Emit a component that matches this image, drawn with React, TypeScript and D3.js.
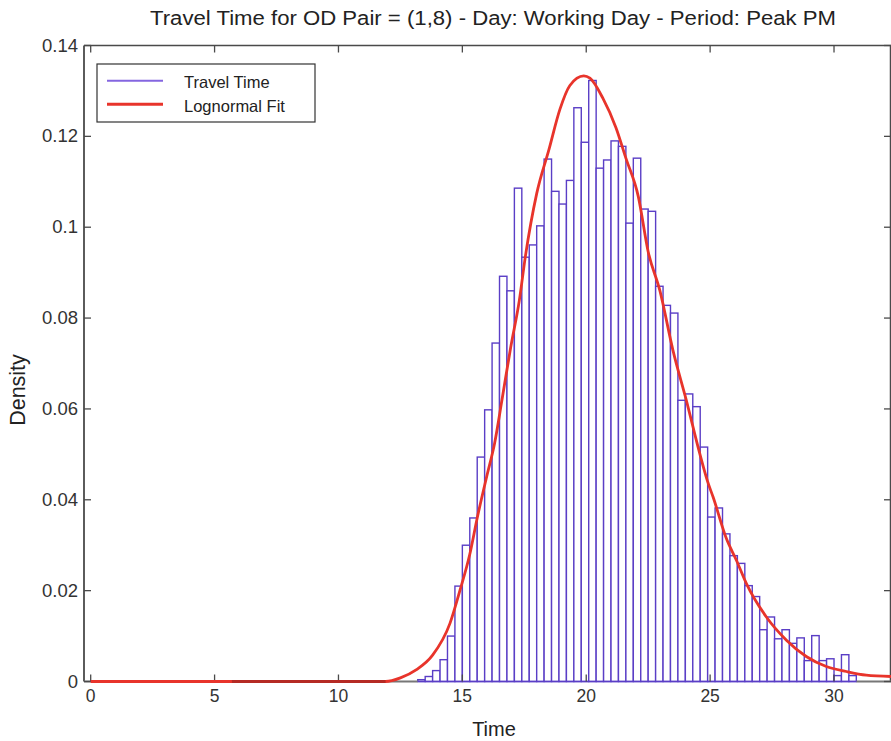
import React from "react";
import * as d3 from "d3";

// histogram: bins of 0.3 starting at 13.2
const binStart = 13.2;
const binWidth = 0.3;
const travelDensity = [
  0.0004, 0.0011, 0.0024, 0.0048, 0.01, 0.021, 0.03, 0.036, 0.0494, 0.0598,
  0.0745, 0.0892, 0.086, 0.1086, 0.0934, 0.0961, 0.1003, 0.115, 0.1079, 0.1051,
  0.1103, 0.1263, 0.1187, 0.1323, 0.113, 0.1148, 0.119, 0.1178, 0.1009, 0.1152,
  0.104, 0.1035, 0.087, 0.0828, 0.0811, 0.0619, 0.0633, 0.0605, 0.0516, 0.0362,
  0.0382, 0.0325, 0.0277, 0.026, 0.0211, 0.0187, 0.0114, 0.0142, 0.0094, 0.0114,
  0.0084, 0.0096, 0.0046, 0.0101, 0.0046, 0.005, 0.0013, 0.0059, 0.0013,
];

// lognormal fit
const fitTime = [
  0, 11.9, 12.5, 13.15, 13.8, 14.5, 14.9, 15.3, 15.6, 16.0, 16.3, 16.6, 16.95,
  17.3, 17.55, 18.0, 18.5, 18.94, 19.34, 19.9, 20.15, 20.67, 21.2, 21.6, 22.1,
  22.5, 22.97, 23.5, 24.04, 24.58, 24.9, 25.12, 25.66, 26.06, 26.46, 27.27,
  28.08, 28.88, 29.69, 30.5, 31.3, 32.3,
];
const fitDensity = [
  0, 0, 0.0008, 0.0026, 0.0058, 0.0128, 0.02, 0.028, 0.036, 0.0455, 0.0524,
  0.062, 0.0735, 0.0839, 0.0938, 0.1074, 0.1172, 0.126, 0.1312, 0.1333, 0.1328,
  0.1284, 0.1219, 0.1152, 0.1068, 0.0946, 0.0861, 0.0729, 0.0619, 0.0502,
  0.044, 0.0406, 0.0314, 0.0267, 0.0216, 0.0142, 0.0091, 0.0055, 0.0033,
  0.0022, 0.0014, 0.0011,
];
// darker stretch of the fit line along zero
const darkSegment = [5.7, 11.9];

const xTicks = [0, 5, 10, 15, 20, 25, 30];
const yTicks = [0, 0.02, 0.04, 0.06, 0.08, 0.1, 0.12, 0.14];
const yTickLabels = ["0", "0.02", "0.04", "0.06", "0.08", "0.1", "0.12", "0.14"];

const title = "Travel Time for OD Pair = (1,8) - Day: Working Day - Period: Peak PM";
const legendLabels = ["Travel Time", "Lognormal Fit"];

const W = 891;
const H = 741;
const font = "'Liberation Sans', Arial, Helvetica, sans-serif";

export default function App() {
  const left = 84, right = 891, top = 45.5, bottom = 681.5;

  const x = d3.scaleLinear().domain([-0.27, 32.3]).range([left, right]);
  const y = d3.scaleLinear().domain([0, 0.14]).range([bottom, top]);

  const fitPts: [number, number][] = fitTime.map((t, i) => [t, fitDensity[i]]);
  const line = d3
    .line<[number, number]>()
    .x((d) => x(d[0]))
    .y((d) => y(d[1]))
    .curve(d3.curveMonotoneX);

  const axisColor = "#4a4a4a";
  const barColor = "#5a3ec6";
  const red = "#e8342b";
  const binEnd = binStart + travelDensity.length * binWidth;

  return (
    <svg
      width={W}
      height={H}
      style={{ position: "absolute", left: 0, top: 0, background: "#fff" }}
      fontFamily={font}
    >
      <rect width={W} height={H} fill="#fff" />
      <text
        x={493}
        y={25}
        textAnchor="middle"
        fontSize={20}
        fill="#222"
        textLength={686}
        lengthAdjust="spacingAndGlyphs"
      >
        {title}
      </text>

      {/* bars */}
      <g fill="#fff" stroke={barColor} strokeWidth={1.4}>
        {travelDensity.map((d, i) => {
          const x0 = x(binStart + i * binWidth);
          const x1 = x(binStart + (i + 1) * binWidth);
          return (
            <rect key={i} x={x0} y={y(d)} width={x1 - x0} height={bottom - y(d)} />
          );
        })}
      </g>

      {/* box */}
      <line x1={left} x2={right} y1={top} y2={top} stroke={axisColor} strokeWidth={1.5} />
      <line x1={left} x2={left} y1={top} y2={bottom} stroke={axisColor} strokeWidth={1.8} />
      <line x1={right - 0.5} x2={right - 0.5} y1={top} y2={bottom} stroke={axisColor} strokeWidth={1.5} />
      <line x1={left} x2={x(binStart)} y1={bottom} y2={bottom} stroke="#777" strokeWidth={2} />
      <line x1={x(binEnd)} x2={right} y1={bottom} y2={bottom} stroke="#777" strokeWidth={2} />
      <line x1={x(binStart)} x2={x(binEnd)} y1={bottom} y2={bottom} stroke={barColor} strokeWidth={1.6} />

      {xTicks.map((t) => (
        <g key={t}>
          <line x1={x(t)} x2={x(t)} y1={bottom} y2={bottom - 7} stroke={axisColor} strokeWidth={1.3} />
          <line x1={x(t)} x2={x(t)} y1={top} y2={top + 7} stroke={axisColor} strokeWidth={1.3} />
          <text x={x(t)} y={702} textAnchor="middle" fontSize={17.5} fill="#333">
            {t}
          </text>
        </g>
      ))}
      {yTicks.map((v, i) => (
        <g key={v}>
          <line x1={left} x2={left + 7} y1={y(v)} y2={y(v)} stroke={axisColor} strokeWidth={1.3} />
          <line x1={right} x2={right - 7} y1={y(v)} y2={y(v)} stroke={axisColor} strokeWidth={1.3} />
          <text x={78} y={y(v) + 6} textAnchor="end" fontSize={18.5} fill="#333">
            {yTickLabels[i]}
          </text>
        </g>
      ))}

      {/* fit */}
      <path d={line(fitPts) || ""} fill="none" stroke={red} strokeWidth={2.8} strokeLinejoin="round" />
      <line
        x1={x(darkSegment[0])}
        x2={x(darkSegment[1])}
        y1={y(0)}
        y2={y(0)}
        stroke="#b52a24"
        strokeWidth={3.2}
      />

      <text x={494} y={736} textAnchor="middle" fontSize={20} fill="#222">
        Time
      </text>
      <text
        transform={`translate(25,390) rotate(-90)`}
        textAnchor="middle"
        fontSize={21.5}
        fill="#222"
      >
        Density
      </text>

      {/* legend */}
      <g>
        <rect x={97} y={64} width={218} height={58} fill="#fff" stroke="#333" strokeWidth={1.2} />
        <line x1={107} x2={163} y1={80.7} y2={80.7} stroke="#8466e0" strokeWidth={2} />
        <line x1={107} x2={163} y1={104.3} y2={104.3} stroke={red} strokeWidth={3} />
        <text x={184} y={88} fontSize={16.5} fill="#222">
          {legendLabels[0]}
        </text>
        <text x={184} y={112} fontSize={16.5} fill="#222">
          {legendLabels[1]}
        </text>
      </g>
    </svg>
  );
}
